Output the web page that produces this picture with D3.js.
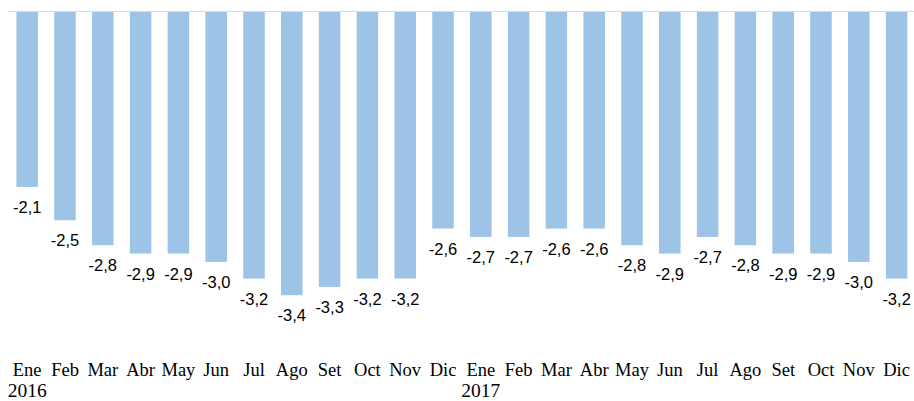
<!DOCTYPE html>
<html><head><meta charset="utf-8">
<script src="https://cdn.jsdelivr.net/npm/d3@7"></script>
<style>html,body{margin:0;padding:0;background:#fff;overflow:hidden}</style>
</head><body>
<svg id="chart" width="914" height="401"></svg>
<script>
const months = ["Ene","Feb","Mar","Abr","May","Jun","Jul","Ago","Set","Oct","Nov","Dic",
                "Ene","Feb","Mar","Abr","May","Jun","Jul","Ago","Set","Oct","Nov","Dic"];
const years = ["2016","","","","","","","","","","","",
               "2017","","","","","","","","","","",""];
const values = [-2.1,-2.5,-2.8,-2.9,-2.9,-3.0,-3.2,-3.4,-3.3,-3.2,-3.2,-2.6,
                -2.7,-2.7,-2.6,-2.6,-2.8,-2.9,-2.7,-2.8,-2.9,-2.9,-3.0,-3.2];

const svg = d3.select("#chart");
const idx = d3.range(values.length);
const x = d3.scaleBand().domain(idx).range([8.3, 915.5]).paddingInner(0.431).paddingOuter(0.2155);
const y = d3.scaleLinear().domain([0, -4]).range([12, 345.2]);

svg.selectAll("rect.bar").data(idx).join("rect")
  .attr("class","bar")
  .attr("x", i => x(i))
  .attr("y", y(0))
  .attr("width", x.bandwidth())
  .attr("height", i => y(values[i]) - y(0))
  .attr("fill", "#9dc3e6");

svg.append("line")
  .attr("x1", 8).attr("x2", 914)
  .attr("y1", y(0) - 0.5).attr("y2", y(0) - 0.5)
  .attr("stroke", "#d9d9d9").attr("stroke-width", 1);

const fmt = v => v.toFixed(1).replace(".", ",");
svg.selectAll("text.val").data(idx).join("text")
  .attr("class","val")
  .attr("x", i => x(i) + x.bandwidth()/2)
  .attr("y", i => y(values[i]) + 26)
  .attr("text-anchor","middle")
  .attr("font-family","Liberation Sans, Arial, sans-serif")
  .attr("font-size", 16.5)
  .attr("fill","#000")
  .text(i => fmt(values[i]));

svg.selectAll("text.mon").data(idx).join("text")
  .attr("class","mon")
  .attr("x", i => x(i) + x.bandwidth()/2)
  .attr("y", 376)
  .attr("text-anchor","middle")
  .attr("font-family","Liberation Serif, Times New Roman, serif")
  .attr("font-size", 18.5)
  .attr("fill","#000")
  .text(i => months[i]);

svg.selectAll("text.yr").data(idx.filter(i => years[i])).join("text")
  .attr("class","yr")
  .attr("x", i => x(i) + x.bandwidth()/2)
  .attr("y", 396.5)
  .attr("text-anchor","middle")
  .attr("font-family","Liberation Serif, Times New Roman, serif")
  .attr("font-size", 19.5)
  .attr("fill","#000")
  .text(i => years[i]);
</script>
</body></html>
